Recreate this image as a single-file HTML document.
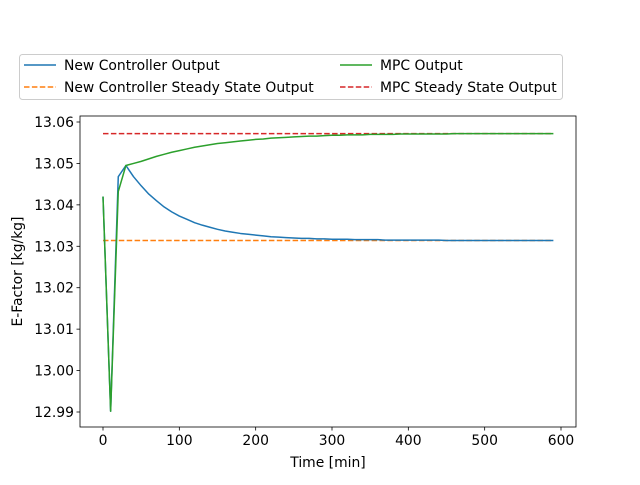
<!DOCTYPE html>
<html><head><meta charset="utf-8"><style>
body{margin:0;background:#fff;}
svg{font-family:"DejaVu Sans","Liberation Sans",sans-serif;}
</style></head><body>
<svg id="chart" width="640" height="480" viewBox="0 0 640 480">
<rect width="640" height="480" fill="#fff"/>
<g id="plot"></g>
</svg>
<script>
const times = [0,10,20,30,40,50,60,70,80,90,100,110,120,130,140,150,160,170,180,190,200,210,220,230,240,250,260,270,280,290,300,310,320,330,340,350,360,370,380,390,400,410,420,430,440,450,460,470,480,490,500,510,520,530,540,550,560,570,580,590];
const newCtrl = [13.0420,12.9902,13.0468,13.0495,13.0468,13.0446,13.0426,13.0410,13.0395,13.0383,13.0373,13.0365,13.0357,13.0351,13.0346,13.0341,13.0337,13.0334,13.0331,13.0329,13.0327,13.0325,13.0323,13.0322,13.0321,13.0320,13.0319,13.0319,13.0318,13.0318,13.0317,13.0317,13.0317,13.0316,13.0316,13.0316,13.0316,13.0315,13.0315,13.0315,13.0315,13.0315,13.0315,13.0315,13.0315,13.0314,13.0314,13.0314,13.0314,13.0314,13.0314,13.0314,13.0314,13.0314,13.0314,13.0314,13.0314,13.0314,13.0314,13.0314];
const mpc = [13.0420,12.9902,13.0432,13.0495,13.0500,13.0505,13.0511,13.0517,13.0522,13.0527,13.0531,13.0535,13.0539,13.0542,13.0545,13.0548,13.0550,13.0552,13.0554,13.0556,13.0558,13.0559,13.0561,13.0562,13.0563,13.0564,13.0565,13.0566,13.0566,13.0567,13.0568,13.0568,13.0569,13.0569,13.0569,13.0570,13.0570,13.0570,13.0570,13.0571,13.0571,13.0571,13.0571,13.0571,13.0571,13.0571,13.0572,13.0572,13.0572,13.0572,13.0572,13.0572,13.0572,13.0572,13.0572,13.0572,13.0572,13.0572,13.0572,13.0572];
const newSS = [13.0314];
const mpcSS = [13.0572];
const xTicks = [0,100,200,300,400,500,600];
const yTicks = [12.99,13.00,13.01,13.02,13.03,13.04,13.05,13.06];

const L=80,R=576,T=116,B=427;
const xs = t => 103 + (t-0)*(561-103)/600;
const ys = v => 412 - (v-12.99)*(412-122)/0.07;
const NS="http://www.w3.org/2000/svg";
const FS=13.9;
const g=document.getElementById('plot');
function mk(tag,attrs,parent){const e=document.createElementNS(NS,tag);for(const k in attrs)e.setAttribute(k,attrs[k]);(parent||g).appendChild(e);return e;}

const tk=mk('g',{});


xTicks.forEach(t=>{
  const x=xs(t);
  mk('line',{x1:x,x2:x,y1:B,y2:B+3.5,stroke:'#000','stroke-width':0.8},tk);
  const tx=mk('text',{x:x,y:B+18,'text-anchor':'middle','font-size':FS},tk);
  tx.textContent=t;
  
  
});
yTicks.forEach(v=>{
  const y=ys(v);
  mk('line',{x1:L-3.5,x2:L,y1:y,y2:y,stroke:'#000','stroke-width':0.8},tk);
  const tx=mk('text',{x:L-6,y:y+5,'text-anchor':'end','font-size':FS},tk);
  tx.textContent=v.toFixed(2);
  
  
});

function hline(v,color,name){
  const l=mk('line',{x1:xs(times[0]),x2:xs(times[times.length-1]),y1:ys(v),y2:ys(v),stroke:color,'stroke-width':1.5,'stroke-dasharray':'5.5,2.4'});
  
  
}
function series(vals,color,name){
  const p=mk('polyline',{points:vals.map((v,i)=>xs(times[i])+','+ys(v)).join(' '),fill:'none',stroke:color,'stroke-width':1.5,'stroke-linejoin':'round'});
  
  
}
hline(newSS[0],'#ff7f0e','new-controller-steady-state-line');
hline(mpcSS[0],'#d62728','mpc-steady-state-line');
series(newCtrl,'#1f77b4','new-controller-output-line');
series(mpc,'#2ca02c','mpc-output-line');

const fr=mk('rect',{x:L,y:T,width:R-L,height:B-T,fill:'none',stroke:'#000','stroke-width':0.8});



const xt=mk('text',{x:(L+R)/2,y:467,'text-anchor':'middle','font-size':FS});
xt.textContent='Time [min]';


const yt=mk('text',{x:22,y:(T+B)/2,'text-anchor':'middle','font-size':FS,transform:'rotate(-90 22 '+(T+B)/2+')'});
yt.textContent='E-Factor [kg/kg]';



const lg=mk('g',{});


mk('rect',{x:19.5,y:54.5,width:543,height:45,rx:3,fill:'#fff',stroke:'#ccc','stroke-width':1},lg);
const entries=[
 [24,65,'#1f77b4',false,'New Controller Output'],
 [24,87,'#ff7f0e',true,'New Controller Steady State Output'],
 [340,65,'#2ca02c',false,'MPC Output'],
 [340,87,'#d62728',true,'MPC Steady State Output']];
entries.forEach(e=>{
  const eg=mk('g',{},lg);
  
  
  const a={x1:e[0],x2:e[0]+32,y1:e[1],y2:e[1],stroke:e[2],'stroke-width':1.5};
  if(e[3])a['stroke-dasharray']='5.5,2.4';
  mk('line',a,eg);
  const t=mk('text',{x:e[0]+40,y:e[1]+5,'font-size':FS},eg);
  t.textContent=e[4];
});
</script>
</body></html>
